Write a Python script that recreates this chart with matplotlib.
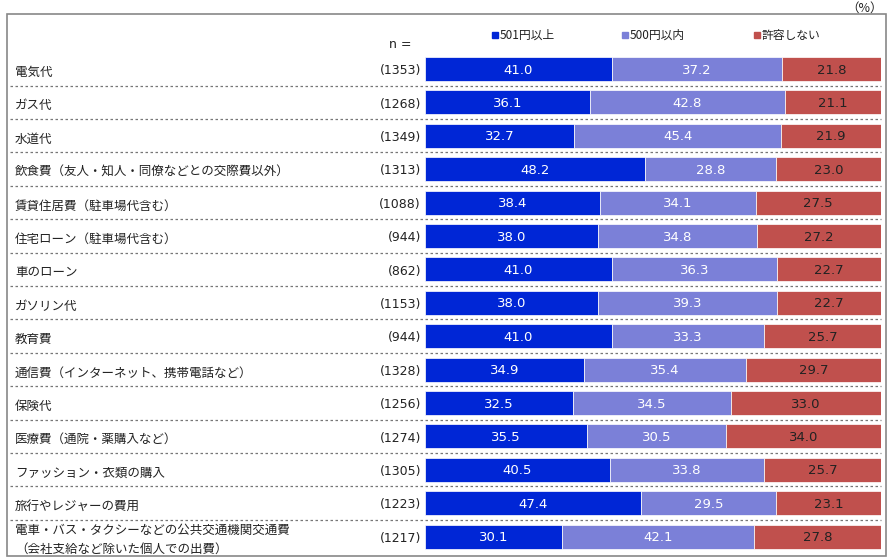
import matplotlib
matplotlib.use("Agg")
import matplotlib.pyplot as plt
from matplotlib.patches import Rectangle
import numpy as np

plt.rcParams['font.family'] = ['Noto Sans CJK JP', 'DejaVu Sans']

categories = [
    "電気代", "ガス代", "水道代", "飲食費（友人・知人・同僚などとの交際費以外）",
    "賃貸住居費（駐車場代含む）", "住宅ローン（駐車場代含む）", "車のローン", "ガソリン代",
    "教育費", "通信費（インターネット、携帯電話など）", "保険代", "医療費（通院・薬購入など）",
    "ファッション・衣類の購入", "旅行やレジャーの費用",
    "電車・バス・タクシーなどの公共交通機関交通費\n（会社支給など除いた個人での出費）",
]
n_values = [1353, 1268, 1349, 1313, 1088, 944, 862, 1153, 944, 1328, 1256, 1274, 1305, 1223, 1217]
over_501 = [41.0, 36.1, 32.7, 48.2, 38.4, 38.0, 41.0, 38.0, 41.0, 34.9, 32.5, 35.5, 40.5, 47.4, 30.1]
under_500 = [37.2, 42.8, 45.4, 28.8, 34.1, 34.8, 36.3, 39.3, 33.3, 35.4, 34.5, 30.5, 33.8, 29.5, 42.1]
not_ok = [21.8, 21.1, 21.9, 23.0, 27.5, 27.2, 22.7, 22.7, 25.7, 29.7, 33.0, 34.0, 25.7, 23.1, 27.8]
series_names = ["501円以上", "500円以内", "許容しない"]
colors = ["#0026D6", "#7B80D8", "#C0504D"]
text_colors = ["white", "white", "#222222"]

W, H = 893, 560
fig = plt.figure(figsize=(W / 100, H / 100), dpi=100)

# frame around everything
fig.patches.append(Rectangle((7 / W, 1 - 556 / H), 879 / W, 542 / H, transform=fig.transFigure,
                             fill=False, edgecolor="#888888", linewidth=1.2))

rows = len(categories)
pitch = 33.4
top = 52.3
ax = fig.add_axes([425 / W, 1 - (top + rows * pitch) / H, 456 / W, rows * pitch / H])
ax.set_xlim(0, 100)
ax.set_ylim(rows - 0.5, -0.5)
ax.axis("off")

y = np.arange(rows)
left = np.zeros(rows)
for vals, c, tc in zip([over_501, under_500, not_ok], colors, text_colors):
    vals = np.array(vals)
    ax.barh(y, vals, left=left, height=0.72, color=c, edgecolor="white", linewidth=0.5)
    for yi, l, v in zip(y, left, vals):
        ax.text(l + v / 2, yi + 0.03, f"{v:.1f}", ha="center", va="center", color=tc,
                fontsize=9.5, family="DejaVu Sans")
    left = left + vals

tr = ax.get_yaxis_transform()
x_label = (15 - 425) / 456
x_n = (421 - 425) / 456
for yi, cat, n in zip(y, categories, n_values):
    ax.text(x_label, yi + 0.1, cat, transform=tr, ha="left", va="center", fontsize=9,
            color="#222222", linespacing=1.6)
    ax.text(x_n, yi + 0.05, f"({n})", transform=tr, ha="right", va="center", fontsize=9,
            color="#222222", family="DejaVu Sans")

for yi in y[:-1]:
    ax.plot([(10 - 425) / 456, 1.0], [yi + 0.5, yi + 0.5], transform=tr, clip_on=False,
            color="#777777", linewidth=0.9, linestyle=(0, (2, 2)))

fig.text(400 / W, 1 - 45 / H, "n =", ha="center", va="center", fontsize=9, color="#222222",
         family="DejaVu Sans")
fig.text(865 / W, 1 - 8 / H, "（%）", ha="center", va="center", fontsize=9, color="#222222")

legend_x = [495, 625, 757]
for lx, name, c in zip(legend_x, series_names, colors):
    fig.patches.append(Rectangle(((lx - 3) / W, 1 - 38 / H), 6 / W, 6 / H,
                                 transform=fig.transFigure, color=c))
    fig.text((lx + 5) / W, 1 - 35 / H, name, ha="left", va="center", fontsize=8.5, color="#222222")

fig.savefig("out.png", dpi=100)
